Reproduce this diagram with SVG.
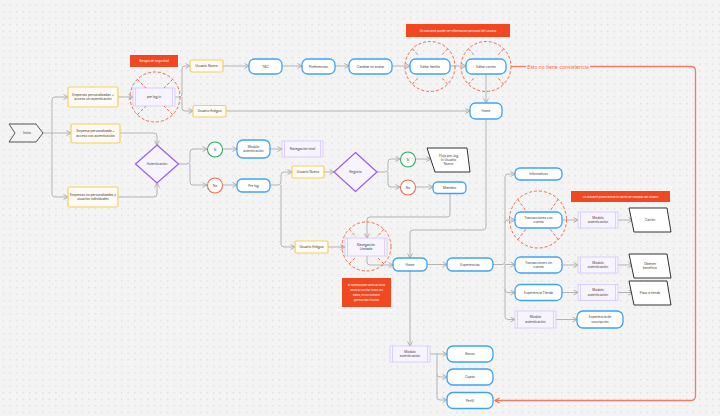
<svg xmlns="http://www.w3.org/2000/svg" width="720" height="416" viewBox="0 0 720 416">
<defs>
<pattern id="dots" x="2.7" y="4.4" width="6.57" height="6.57" patternUnits="userSpaceOnUse">
<rect x="0" y="0" width="1.3" height="1.3" fill="#dadada"/>
</pattern>
<marker id="ar" markerUnits="userSpaceOnUse" markerWidth="8" markerHeight="8" refX="5" refY="3" orient="auto">
<path d="M0.5,0.5 L5,3 L0.5,5.5" fill="none" stroke="#a8a8a8" stroke-width="0.9"/>
</marker>
<marker id="arr" markerUnits="userSpaceOnUse" markerWidth="8" markerHeight="8" refX="5" refY="3" orient="auto">
<path d="M0.5,0.5 L5,3 L0.5,5.5" fill="none" stroke="#f26a4f" stroke-width="1.1"/>
</marker>
</defs>
<style>
text{font-family:Inter,"Noto Sans",sans-serif;font-size:3.2px;fill:#3a3a3a;text-anchor:middle;dominant-baseline:central}
.y{fill:#fdfbf3;stroke:#f6cf5c;stroke-width:1.2}
.b{fill:#fff;stroke:#3ea2f8;stroke-width:1.3}
.p{fill:#f7f3ff;stroke:#d5c5fb;stroke-width:0.8}
.pl{stroke:#d5c5fb;stroke-width:0.8}
.d{fill:#f7f4ff;stroke:#9b59f5;stroke-width:1.2}
.io{fill:#fff;stroke:#333;stroke-width:1;stroke-linejoin:round}
.rl{fill:#f24822}
text.w{fill:#fff;font-size:2.9px}
.rc{fill:none;stroke:#f26a4f;stroke-width:1;stroke-dasharray:3 2}
.c{fill:none;stroke:#b3b3b3;stroke-width:1;marker-end:url(#ar)}
.red{fill:none;stroke:#f47c64;stroke-width:1.3}
</style>
<rect width="720" height="416" fill="#f4f4f4"/>
<rect width="720" height="416" fill="url(#dots)"/>

<g id="connectors">
<path class="c" d="M43 133 H71"/>
<path class="c" d="M52 133 V100 Q52 97 55 97 H68"/>
<path class="c" d="M52 133 V194 Q52 197 55 197 H68"/>
<path class="c" d="M118 97 H133"/>
<path class="c" d="M175 97 H179 Q182 97 182 94 V69 Q182 66 185 66 H190"/>
<path class="c" d="M182 97 V108 Q182 111 185 111 H193"/>
<path class="c" d="M223 66 H249"/>
<path class="c" d="M282 66 H302"/>
<path class="c" d="M335 66 H349"/>
<path class="c" d="M392 66 H410"/>
<path class="c" d="M450 66 H466"/>
<path class="c" d="M486 74 V103"/>
<path class="c" d="M226 111 H470"/>
<path class="c" d="M120 133 H154 Q157 133 157 136 V145"/>
<path class="c" d="M118 197 H154 Q157 197 157 194 V183"/>
<path class="c" d="M178.5 164 H187 Q190 164 190 161 V152 Q190 149 193 149 H207"/>
<path class="c" d="M190 164 V182 Q190 185 193 185 H207"/>
<path class="c" d="M223 149 H237"/>
<path class="c" d="M270 149 H282"/>
<path class="c" d="M223 185 H237"/>
<path class="c" d="M270 185 H278 Q281 185 281 182 V175 Q281 172 284 172 H292"/>
<path class="c" d="M281 185 V244 Q281 247 284 247 H295"/>
<path class="c" d="M324 172 H334"/>
<path class="c" d="M377 172 H385 Q388 172 388 169 V162 Q388 159 391 159 H400"/>
<path class="c" d="M388 172 V184 Q388 187 391 187 H400"/>
<path class="c" d="M416 159 H431"/>
<path class="c" d="M416 187 H433"/>
<path class="c" d="M450 193 V214 Q450 217 447 217 H370 Q367 217 367 220 V238"/>
<path class="c" d="M328 247 H345"/>
<path class="c" d="M367 256 V262 Q367 265 370 265 H393"/>
<path class="c" d="M486 119 V227 Q486 230 483 230 H413 Q410 230 410 233 V258"/>
<path class="c" d="M427 264.5 H447"/>
<path class="c" d="M493 264.5 H502 Q505 264.5 505 261.5 V177 Q505 174 508 174 H515"/>
<path class="c" d="M505 223 Q505 220 508 220 H515"/>
<path class="c" d="M505 264.5 H515"/>
<path class="c" d="M505 264.5 V289.5 Q505 292.5 508 292.5 H515"/>
<path class="c" d="M505 289 V316.5 Q505 319.5 508 319.5 H515"/>
<path class="c" d="M562 220 H578"/>
<path class="c" d="M618 220 H633"/>
<path class="c" d="M562 265 H578"/>
<path class="c" d="M618 265 H633"/>
<path class="c" d="M562 292.5 H578"/>
<path class="c" d="M618 292.5 H633"/>
<path class="c" d="M556 319.5 H577"/>
<path class="c" d="M410 271 V346"/>
<path class="c" d="M430 354 H447"/>
<path class="c" d="M437 354 V374 Q437 377 440 377 H447"/>
<path class="c" d="M437 374 V397 Q437 400 440 400 H447"/>
<path class="red" d="M511 66.5 H526"/>
<path class="red" d="M590 66.5 H691 Q695.5 66.5 695.5 71 V396 Q695.5 400.5 691 400.5 H495" marker-end="url(#arr)"/>
</g>

<g id="inicio">
<polygon points="9,124 36,124 43,133 36,142 9,142 15,133" fill="#f4f4f4" stroke="#555" stroke-width="1" stroke-linejoin="round"/>
<text x="27" y="133">Inicio</text>
</g>
<g id="emp-sin-auth"><rect class="y" x="68" y="87" width="50" height="20" rx="1.5"/><text x="93" y="95">Empresas personalizadas +</text><text x="93" y="99.4">acceso sin autenticación</text></g>
<g id="emp-con-auth"><rect class="y" x="71" y="124" width="49" height="19" rx="1.5"/><text x="95.5" y="131.3">Empresa personalizada +</text><text x="95.5" y="135.7">acceso con autenticación</text></g>
<g id="emp-no-pers"><rect class="y" x="68" y="187" width="50" height="20" rx="1.5"/><text x="93" y="194.8">Empresas no personalizadas y</text><text x="93" y="199.2">usuarios individuales</text></g>

<g id="riesgos"><rect class="rl" x="130" y="55" width="48" height="12"/><text class="w" x="154" y="61">Riesgos de seguridad</text></g>
<g id="prelogin">
<rect class="p" x="133" y="88" width="42" height="18"/><line class="pl" x1="135.5" y1="88" x2="135.5" y2="106"/><line class="pl" x1="172.5" y1="88" x2="172.5" y2="106"/>
<text x="154" y="97">pre log in</text>
<circle class="rc" cx="155" cy="97" r="25"/>
<path class="rc" d="M137.3 79.3 L146 88 M172.7 79.3 L164 88 M137.3 114.7 L146 106 M172.7 114.7 L164 106"/>
</g>
<g id="usuario-nuevo"><rect class="y" x="190" y="60" width="33" height="12" rx="1.5"/><text x="206.5" y="66">Usuario Nuevo</text></g>
<g id="usuario-antiguo"><rect class="y" x="193" y="105.5" width="33" height="11.5" rx="1.5"/><text x="209.5" y="111.2">Usuario Antiguo</text></g>
<g id="tyc"><rect class="b" x="249" y="59" width="33" height="15" rx="5.5"/><text x="265.5" y="66.5">T&amp;C</text></g>
<g id="preferencias"><rect class="b" x="302" y="59" width="33" height="15" rx="5.5"/><text x="318.5" y="66.5">Preferencias</text></g>
<g id="cambiar-avatar"><rect class="b" x="349" y="59" width="43" height="15" rx="5.5"/><text x="370.5" y="66.5">Cambiar mi avatar</text></g>
<g id="atacante1"><rect class="rl" x="406" y="24" width="104" height="13"/><text class="w" x="458" y="30.5">Un atacante puede ver información personal del usuario</text></g>
<g id="editar-familia">
<rect class="b" x="410" y="59" width="40" height="15" rx="5.5"/><text x="430" y="66.5">Editar familia</text>
<circle class="rc" cx="430" cy="66.5" r="25"/>
<path class="rc" d="M412.3 48.8 L419 56 M447.7 48.8 L441 56 M412.3 84.2 L419 77 M447.7 84.2 L441 77"/>
</g>
<g id="editar-correo">
<rect class="b" x="466" y="59" width="40" height="15" rx="5.5"/><text x="486" y="66.5">Editar correo</text>
<circle class="rc" cx="486" cy="66.5" r="25"/>
<path class="rc" d="M468.3 48.8 L475 56 M503.7 48.8 L497 56 M468.3 84.2 L475 77 M503.7 84.2 L497 77"/>
</g>
<g id="consistencia"><text x="558" y="67" style="font-size:5px;fill:#f26a4f">Esto no tiene consistencia</text></g>
<g id="home"><rect class="b" x="470" y="103" width="32" height="16" rx="5.5"/><text x="486" y="111">Home</text></g>

<g id="autenticacion"><polygon class="d" points="157,145 178.5,164 157,183 135.5,164"/><text x="157" y="164">Autenticación</text></g>
<g id="si1"><circle cx="215" cy="149.5" r="7.5" fill="#fff" stroke="#27ae60" stroke-width="1.1"/><text x="215" y="149.5">Si</text></g>
<g id="no1"><circle cx="215" cy="185.5" r="7.5" fill="#fff" stroke="#f26a4f" stroke-width="1.1"/><text x="215" y="185.5">No</text></g>
<g id="modulo1"><rect class="b" x="237" y="140" width="33" height="18" rx="6"/><text x="253.5" y="146.9">Modulo</text><text x="253.5" y="151.3">autenticación</text></g>
<g id="nav-total"><rect class="p" x="282" y="141" width="41" height="16"/><line class="pl" x1="284.5" y1="141" x2="284.5" y2="157"/><line class="pl" x1="320.5" y1="141" x2="320.5" y2="157"/><text x="302.5" y="149">Navegación total</text></g>
<g id="pre-log"><rect class="b" x="237" y="179" width="33" height="13" rx="5"/><text x="253.5" y="185.5">Pre log</text></g>
<g id="usuario-nuevo2"><rect class="y" x="292" y="166" width="32" height="12" rx="1.5"/><text x="308" y="172">Usuario Nuevo</text></g>
<g id="usuario-antiguo2"><rect class="y" x="295" y="241" width="33" height="12" rx="1.5"/><text x="311.5" y="247">Usuario Antiguo</text></g>
<g id="registro"><polygon class="d" points="355.5,152.5 377,172 355.5,191.5 334,172"/><text x="355.5" y="172">Registro</text></g>
<g id="si2"><circle cx="408" cy="159.5" r="7.5" fill="#fff" stroke="#27ae60" stroke-width="1.1"/><text x="408" y="159.5">Si</text></g>
<g id="no2"><circle cx="408" cy="187.5" r="7.5" fill="#fff" stroke="#f26a4f" stroke-width="1.1"/><text x="408" y="187.5">No</text></g>
<g id="flujo"><polygon class="io" points="427,148 467,148 470,172 435,172"/><text x="448.5" y="155.7">Flujo pre-log</text><text x="448.5" y="160">In Usuario</text><text x="448.5" y="164.3">Nuevo</text></g>
<g id="miembro"><rect class="b" x="433" y="182" width="33" height="11.5" rx="4.5"/><text x="449.5" y="187.8">Miembro</text></g>
<g id="nav-limitada">
<rect class="p" x="345" y="238" width="42" height="18"/><line class="pl" x1="347.5" y1="238" x2="347.5" y2="256"/><line class="pl" x1="384.5" y1="238" x2="384.5" y2="256"/>
<text x="366" y="244.9">Navegación</text><text x="366" y="249.3">Limitada</text>
<circle class="rc" cx="366.5" cy="246.5" r="24.5"/>
<path class="rc" d="M349.2 229.2 L356 237 M383.8 229.2 L377 237 M349.2 263.8 L356 257 M383.8 263.8 L377 257"/>
</g>
<g id="nota"><rect class="rl" x="342" y="278" width="49" height="29"/>
<text class="w" x="366.5" y="284.5" style="font-size:2.7px">El sistema pide datos al inicio</text>
<text class="w" x="366.5" y="289.5" style="font-size:2.7px">deberia solicitar todos los</text>
<text class="w" x="366.5" y="294.5" style="font-size:2.7px">datos, en lo contrario</text>
<text class="w" x="366.5" y="299.5" style="font-size:2.7px">genera mas fricción</text></g>
<g id="home2"><rect class="b" x="393" y="258" width="34" height="13" rx="5"/><text x="410" y="264.5">Home</text></g>
<g id="experiencias"><rect class="b" x="447" y="258" width="46" height="13" rx="5"/><text x="470" y="264.5">Experiencias</text></g>
<g id="informativos"><rect class="b" x="515" y="168" width="47" height="12" rx="5"/><text x="538.5" y="174">Informativos</text></g>
<g id="trans-con">
<rect class="b" x="515" y="212" width="47" height="16" rx="5.5"/><text x="538.5" y="217.9">Transacciones con</text><text x="538.5" y="222.3">cuenta</text>
<circle class="rc" cx="538" cy="219.5" r="28.5"/>
<path class="rc" d="M517.8 199.3 L526 211 M558.2 199.3 L550 211 M517.8 239.7 L526 229 M558.2 239.7 L550 229"/>
</g>
<g id="atacante2"><rect class="rl" x="571" y="191" width="99" height="11"/><text class="w" x="620.5" y="196.5" style="font-size:2.7px">Un atacante puede alterar el carrito de compras del usuario</text></g>
<g id="modulo2"><rect class="p" x="578" y="212" width="40" height="16"/><line class="pl" x1="580.5" y1="212" x2="580.5" y2="228"/><line class="pl" x1="615.5" y1="212" x2="615.5" y2="228"/><text x="598" y="217.9">Modulo</text><text x="598" y="222.3">autenticación</text></g>
<g id="carrito"><polygon class="io" points="629,208 667,208 671,232 634,232"/><text x="650" y="220">Carrito</text></g>
<g id="trans-sin"><rect class="b" x="515" y="257" width="47" height="16" rx="5.5"/><text x="538.5" y="262.9">Transacciones sin</text><text x="538.5" y="267.3">cuenta</text></g>
<g id="modulo3"><rect class="p" x="578" y="257" width="40" height="16"/><line class="pl" x1="580.5" y1="257" x2="580.5" y2="273"/><line class="pl" x1="615.5" y1="257" x2="615.5" y2="273"/><text x="598" y="262.9">Modulo</text><text x="598" y="267.3">autenticación</text></g>
<g id="beneficio"><polygon class="io" points="629,254 667,254 671,278 634,278"/><text x="650" y="263.9">Obtener</text><text x="650" y="268.3">beneficio</text></g>
<g id="exp-tienda"><rect class="b" x="515" y="284.5" width="47" height="16" rx="5.5"/><text x="538.5" y="292.5">Experiencia Tienda</text></g>
<g id="modulo4"><rect class="p" x="578" y="284.5" width="40" height="16"/><line class="pl" x1="580.5" y1="284.5" x2="580.5" y2="300.5"/><line class="pl" x1="615.5" y1="284.5" x2="615.5" y2="300.5"/><text x="598" y="290.4">Modulo</text><text x="598" y="294.8">autenticación</text></g>
<g id="paso-tienda"><polygon class="io" points="629,281 667,281 671,305 634,305"/><text x="650" y="293">Paso a tienda</text></g>
<g id="modulo5"><rect class="p" x="515" y="311" width="41" height="17"/><line class="pl" x1="517.5" y1="311" x2="517.5" y2="328"/><line class="pl" x1="553.5" y1="311" x2="553.5" y2="328"/><text x="535.5" y="317.3">Modulo</text><text x="535.5" y="321.7">autenticación</text></g>
<g id="suscripcion"><rect class="b" x="577" y="311" width="46" height="17" rx="6"/><text x="600" y="317.3">Experiencia de</text><text x="600" y="321.7">suscripción</text></g>
<g id="modulo6"><rect class="p" x="390" y="346" width="40" height="16"/><line class="pl" x1="392.5" y1="346" x2="392.5" y2="362"/><line class="pl" x1="427.5" y1="346" x2="427.5" y2="362"/><text x="410" y="351.9">Modulo</text><text x="410" y="356.3">autenticación</text></g>
<g id="bonos"><rect class="b" x="447" y="346" width="46" height="16" rx="6"/><text x="470" y="354">Bonos</text></g>
<g id="cupon"><rect class="b" x="447" y="369" width="46" height="16" rx="6"/><text x="470" y="377">Cupón</text></g>
<g id="perfil"><rect class="b" x="447" y="392.5" width="46" height="16" rx="6"/><text x="470" y="400.5">Perfil</text></g>
</svg>
